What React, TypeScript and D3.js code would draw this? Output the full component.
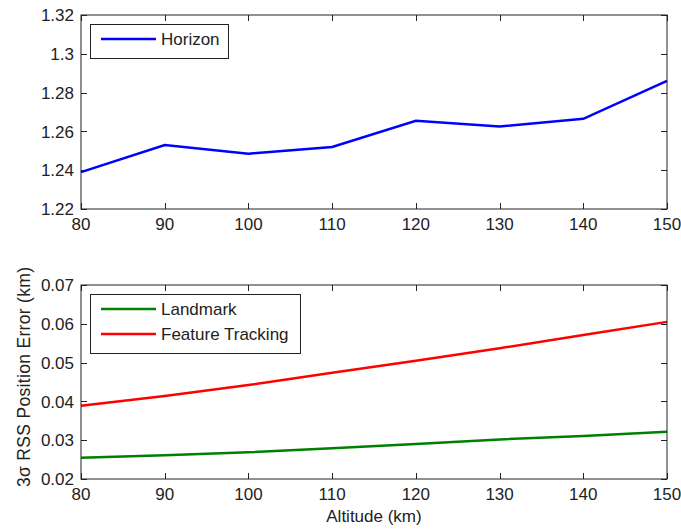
import React, { useEffect, useRef } from 'react';
import * as d3 from 'd3';

// altitude samples (km)
const altitudes = [80, 90, 100, 110, 120, 130, 140, 150];

// top panel
const horizon = [1.239, 1.253, 1.2485, 1.252, 1.2655, 1.2625, 1.2665, 1.286];
const topTicks = [1.22, 1.24, 1.26, 1.28, 1.3, 1.32];

// bottom panel
const landmark = [0.0255, 0.0261, 0.0269, 0.0279, 0.029, 0.0302, 0.0311, 0.0322];
const featureTracking = [0.0389, 0.0414, 0.0442, 0.0474, 0.0505, 0.0537, 0.0571, 0.0605];
const bottomTicks = [0.02, 0.03, 0.04, 0.05, 0.06, 0.07];

const xTicks = altitudes;

const W = 681;
const H = 529;
const FONT = 'Liberation Sans, Arial, sans-serif';

const App: React.FC = () => {
  const ref = useRef<SVGSVGElement>(null);

  useEffect(() => {
    const svg = d3.select(ref.current);
    svg.selectAll('*').remove();

    const left = 81;
    const right = 667;
    const x = d3.scaleLinear().domain([80, 150]).range([left, right]);

    const drawPanel = (
      top: number,
      bottom: number,
      domain: [number, number],
      ticks: number[],
      fmt: (v: number) => string,
      series: { name: string; values: number[]; color: string }[],
      legendWidth: number
    ) => {
      const y = d3.scaleLinear().domain(domain).range([bottom, top]);
      const g = svg.append('g');

      g.append('rect')
        .attr('x', left)
        .attr('y', top)
        .attr('width', right - left)
        .attr('height', bottom - top)
        .attr('fill', 'white');

      const tl = 6;
      // x ticks (bottom and top, inward)
      xTicks.forEach((t) => {
        const px = Math.round(x(t)) + 0.5;
        g.append('line').attr('x1', px).attr('x2', px).attr('y1', bottom).attr('y2', bottom - tl).attr('stroke', '#222');
        g.append('line').attr('x1', px).attr('x2', px).attr('y1', top).attr('y2', top + tl).attr('stroke', '#222');
        g.append('text')
          .attr('x', x(t))
          .attr('y', bottom + 21)
          .attr('text-anchor', 'middle')
          .attr('font-family', FONT)
          .attr('font-size', '17px')
          .attr('fill', '#222')
          .text(String(t));
      });

      // y ticks (left and right, inward)
      ticks.forEach((t) => {
        const py = Math.round(y(t)) + 0.5;
        g.append('line').attr('x1', left).attr('x2', left + tl).attr('y1', py).attr('y2', py).attr('stroke', '#222');
        g.append('line').attr('x1', right).attr('x2', right - tl).attr('y1', py).attr('y2', py).attr('stroke', '#222');
        g.append('text')
          .attr('x', left - 7)
          .attr('y', y(t))
          .attr('dy', '0.36em')
          .attr('text-anchor', 'end')
          .attr('font-family', FONT)
          .attr('font-size', '17px')
          .attr('fill', '#222')
          .text(fmt(t));
      });

      const line = d3
        .line<number>()
        .x((_d, i) => x(altitudes[i]))
        .y((d) => y(d));

      series.forEach((s) => {
        g.append('path')
          .datum(s.values)
          .attr('d', line)
          .attr('fill', 'none')
          .attr('stroke', s.color)
          .attr('stroke-width', 2.5);
      });

      // frame on top of the lines
      g.append('rect')
        .attr('x', left)
        .attr('y', top)
        .attr('width', right - left)
        .attr('height', bottom - top)
        .attr('fill', 'none')
        .attr('stroke', '#222')
        .attr('stroke-width', 1);

      // legend
      const lx = 90;
      const ly = top + 9;
      const rowH = 25;
      const lh = 9 + series.length * rowH;
      g.append('rect')
        .attr('x', lx + 0.5)
        .attr('y', ly + 0.5)
        .attr('width', legendWidth)
        .attr('height', lh)
        .attr('fill', 'white')
        .attr('stroke', '#222');
      series.forEach((s, i) => {
        const cy = ly + 15 + i * rowH;
        g.append('line')
          .attr('x1', lx + 11)
          .attr('x2', lx + 66)
          .attr('y1', cy)
          .attr('y2', cy)
          .attr('stroke', s.color)
          .attr('stroke-width', 2.5);
        g.append('text')
          .attr('x', lx + 71)
          .attr('y', cy)
          .attr('dy', '0.36em')
          .attr('font-family', FONT)
          .attr('font-size', '17px')
          .attr('fill', '#222')
          .text(s.name);
      });
    };

    drawPanel(
      15,
      209,
      [1.22, 1.32],
      topTicks,
      (v) => d3.format('~g')(+v.toFixed(2)),
      [{ name: 'Horizon', values: horizon, color: '#0000ff' }],
      138
    );

    drawPanel(
      285,
      479,
      [0.02, 0.07],
      bottomTicks,
      (v) => v.toFixed(2),
      [
        { name: 'Landmark', values: landmark, color: '#008000' },
        { name: 'Feature Tracking', values: featureTracking, color: '#ff0000' },
      ],
      210
    );

    // axis labels
    svg
      .append('text')
      .attr('x', (left + right) / 2)
      .attr('y', 522)
      .attr('text-anchor', 'middle')
      .attr('font-family', FONT)
      .attr('font-size', '17px')
      .attr('fill', '#222')
      .text('Altitude (km)');

    svg
      .append('text')
      .attr('transform', `translate(30,377) rotate(-90)`)
      .attr('text-anchor', 'middle')
      .attr('font-family', FONT)
      .attr('font-size', '17.5px')
      .attr('textLength', 220)
      .attr('lengthAdjust', 'spacing')
      .attr('fill', '#222')
      .text('3σ RSS Position Error (km)');

    return () => {
      svg.selectAll('*').remove();
    };
  }, []);

  return (
    <svg
      ref={ref}
      width={W}
      height={H}
      style={{ position: 'absolute', left: 0, top: 0, background: 'white' }}
    />
  );
};

export default App;
